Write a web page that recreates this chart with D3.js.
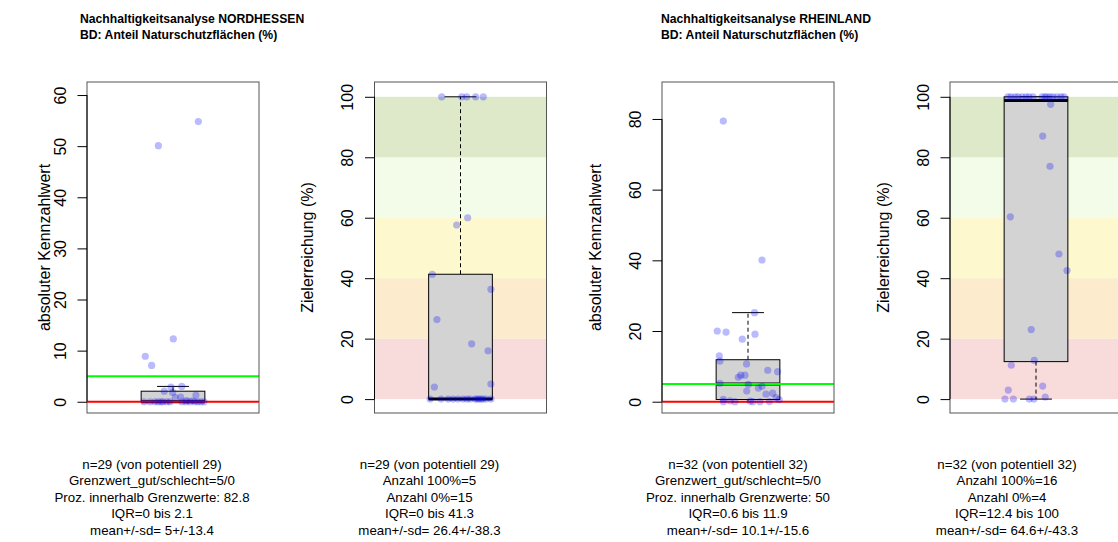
<!DOCTYPE html>
<html>
<head>
<meta charset="utf-8">
<script src="https://cdn.jsdelivr.net/npm/d3@7"></script>
<style>
  body { margin: 0; background: #fff; }
  svg { display: block; font-family: "Liberation Sans", Arial, Helvetica, sans-serif; }
</style>
</head>
<body>
<svg id="chart" width="1118" height="542"></svg>
<script>
// ---- Data ---------------------------------------------------------------
const regions = ["NORDHESSEN", "RHEINLAND"];
const indicatorName = "BD: Anteil Naturschutzflächen (%)";
const thresholdGood = 5;   // Grenzwert gut
const thresholdBad = 0;    // Grenzwert schlecht

// NORDHESSEN: absolute indicator values and their horizontal jitter
const nhValues = [54.8, 50.1, 12.3, 8.9, 7.1, 3.0, 2.88, 2.065, 1.82, 1.32, 0.92, 0.8, 0.25, 0.2,
  0, 0, 0, 0, 0, 0, 0, 0, 0, 0, 0, 0, 0, 0, 0];
const nhJitter = [0.159, -0.092, 0.002, -0.174, -0.134, 0.055, -0.013, -0.055, -0.002, 0.144, 0.048, 0.014, 0.086, 0.124,
  -0.182, -0.144, -0.113, -0.094, -0.075, -0.063, -0.038, -0.019, 0.056, 0.082, 0.107, 0.138, 0.157, 0.176, 0.195];

// NORDHESSEN: target achievement (%)
const nhPercent = [100, 100, 100, 100, 100, 60, 57.6, 41.3, 36.3, 26.3, 18.3, 16, 5, 4,
  0, 0, 0, 0, 0, 0, 0, 0, 0, 0, 0, 0, 0, 0, 0];
const nhPercentJitter = [-0.118, 0.008, 0.039, 0.095, 0.143, 0.045, -0.024, -0.177, 0.191, -0.148, 0.070, 0.173, 0.191, -0.164,
  -0.191, -0.122, -0.078, -0.047, -0.016, 0.016, 0.041, 0.060, 0.091, 0.104, 0.116, 0.129, 0.141, 0.160, 0.191];

// RHEINLAND: absolute indicator values and their horizontal jitter
const rlValues = [79.4, 40.1, 25.2, 20.0, 19.7, 19.1, 17.7, 13.0, 11.5, 10.7, 8.9, 8.5, 7.5, 7.5, 6.9, 5.2,
  4.875, 4.35, 3.85, 3.015, 2.4, 2.125, 1.15, 0.64, 0.56, 0.215, 0.15, 0.035,
  0, 0, 0, 0];
const rlJitter = [-0.155, 0.088, 0.041, -0.193, -0.138, 0.044, -0.036, -0.180, -0.176, -0.009, 0.124, 0.186, -0.019, -0.046, -0.061, -0.176,
  0.002, 0.088, 0.065, -0.008, 0.155, 0.113, 0.176, -0.155, 0.196, -0.113, 0.013, 0.134,
  -0.155, -0.082, 0.030, 0.075];

// RHEINLAND: target achievement (%)
const rlPercent = [100, 100, 100, 100, 100, 100, 100, 100, 100, 100, 100, 100, 100, 100, 100, 100,
  97.5, 87, 77, 60.3, 48, 42.5, 23, 12.8, 11.2, 4.3, 3, 0.7,
  0, 0, 0, 0];
const rlPercentJitter = [-0.176, -0.157, -0.132, -0.113, -0.088, -0.063, -0.044, -0.019, 0.038, 0.056, 0.069, 0.088, 0.107, 0.132, 0.157, 0.176,
  0.092, 0.042, 0.088, -0.161, 0.144, 0.195, -0.030, -0.011, -0.155, 0.042, -0.174, 0.058,
  -0.195, -0.142, -0.042, -0.013];

// Axis ticks
const ticksNh = [0, 10, 20, 30, 40, 50, 60];
const ticksRl = [0, 20, 40, 60, 80];
const ticksPercent = [0, 20, 40, 60, 80, 100];

// Achievement bands (%)
const bandLower = [0, 20, 40, 60, 80];
const bandUpper = [20, 40, 60, 80, 100];
const bandColors = ["#f8dcdc", "#fcebcc", "#fdf8cd", "#f3fbe9", "#dde9c9"];

// Summary texts below the plots
const nhAbsText = ["n=29 (von potentiell 29)", "Grenzwert_gut/schlecht=5/0", "Proz. innerhalb Grenzwerte: 82.8", "IQR=0 bis 2.1", "mean+/-sd= 5+/-13.4"];
const nhPctText = ["n=29 (von potentiell 29)", "Anzahl 100%=5", "Anzahl 0%=15", "IQR=0 bis 41.3", "mean+/-sd= 26.4+/-38.3"];
const rlAbsText = ["n=32 (von potentiell 32)", "Grenzwert_gut/schlecht=5/0", "Proz. innerhalb Grenzwerte: 50", "IQR=0.6 bis 11.9", "mean+/-sd= 10.1+/-15.6"];
const rlPctText = ["n=32 (von potentiell 32)", "Anzahl 100%=16", "Anzahl 0%=4", "IQR=12.4 bis 100", "mean+/-sd= 64.6+/-43.3"];

// ---- Layout -------------------------------------------------------------
const svg = d3.select("#chart");
const plotTop = 82, plotBottom = 413, plotWidth = 172;

const panels = [
  { left: 87,    values: nhValues,  jitter: nhJitter,        domain: [-2.2, 62.55], ticks: ticksNh,      label: "absoluter Kennzahlwert", labelGap: 37,  abs: true,  text: nhAbsText, textX: 152 },
  { left: 374.5, values: nhPercent, jitter: nhPercentJitter, domain: [-4.6, 104.9], ticks: ticksPercent, label: "Zielerreichung (%)",     labelGap: 61.5, abs: false, text: nhPctText, textX: 429.5 },
  { left: 662,   values: rlValues,  jitter: rlJitter,        domain: [-3.2, 90.46], ticks: ticksRl,      label: "absoluter Kennzahlwert", labelGap: 61.5, abs: true,  text: rlAbsText, textX: 738 },
  { left: 950,   values: rlPercent, jitter: rlPercentJitter, domain: [-4.6, 104.9], ticks: ticksPercent, label: "Zielerreichung (%)",     labelGap: 61.5, abs: false, text: rlPctText, textX: 1007 }
];

// Titles
[[80, regions[0]], [661, regions[1]]].forEach(([x, region]) => {
  const t = svg.append("text").attr("x", x).attr("y", 22.5)
    .attr("font-size", 12.2).attr("font-weight", "bold").attr("fill", "#000");
  t.append("tspan").attr("x", x).text("Nachhaltigkeitsanalyse " + region);
  t.append("tspan").attr("x", x).attr("dy", 16).text(indicatorName);
});

panels.forEach(p => {
  const g = svg.append("g");
  const x = d3.scaleLinear().domain([0.46, 1.54]).range([p.left, p.left + plotWidth]);
  const y = d3.scaleLinear().domain(p.domain).range([plotBottom, plotTop]);

  // achievement bands
  if (!p.abs) {
    g.selectAll("rect.band").data(bandColors).join("rect")
      .attr("class", "band")
      .attr("x", x.range()[0]).attr("width", plotWidth)
      .attr("y", (d, i) => y(bandUpper[i]))
      .attr("height", (d, i) => y(bandLower[i]) - y(bandUpper[i]))
      .attr("fill", d => d);
  }

  // boxplot statistics (type-7 quantiles)
  const sorted = p.values.slice().sort(d3.ascending);
  const q1 = d3.quantile(sorted, 0.25), med = d3.quantile(sorted, 0.5), q3 = d3.quantile(sorted, 0.75);
  const iqr = q3 - q1;
  const whiskLo = d3.min(sorted.filter(v => v >= q1 - 1.5 * iqr));
  const whiskHi = d3.max(sorted.filter(v => v <= q3 + 1.5 * iqr));

  // whiskers
  g.append("line").attr("x1", x(1)).attr("x2", x(1)).attr("y1", y(q3)).attr("y2", y(whiskHi))
    .attr("stroke", "#000").attr("stroke-dasharray", "4,3");
  g.append("line").attr("x1", x(1)).attr("x2", x(1)).attr("y1", y(q1)).attr("y2", y(whiskLo))
    .attr("stroke", "#000").attr("stroke-dasharray", "4,3");
  [whiskLo, whiskHi].forEach(v => {
    g.append("line").attr("x1", x(0.9)).attr("x2", x(1.1)).attr("y1", y(v)).attr("y2", y(v))
      .attr("stroke", "#000");
  });
  // box
  g.append("rect").attr("x", x(0.8)).attr("width", x(1.2) - x(0.8))
    .attr("y", y(q3)).attr("height", y(q1) - y(q3))
    .attr("fill", "#d3d3d3").attr("stroke", "#000");
  // median
  g.append("line").attr("x1", x(0.8)).attr("x2", x(1.2)).attr("y1", y(med)).attr("y2", y(med))
    .attr("stroke", "#000").attr("stroke-width", 3);

  // threshold lines
  if (p.abs) {
    g.append("line").attr("x1", x.range()[0]).attr("x2", x.range()[1])
      .attr("y1", y(thresholdGood)).attr("y2", y(thresholdGood))
      .attr("stroke", "#00ff00").attr("stroke-width", 2);
    g.append("line").attr("x1", x.range()[0]).attr("x2", x.range()[1])
      .attr("y1", y(thresholdBad)).attr("y2", y(thresholdBad))
      .attr("stroke", "#ff0000").attr("stroke-width", 2);
  }

  // jittered observations
  g.selectAll("circle").data(p.values).join("circle")
    .attr("cx", (d, i) => x(1 + p.jitter[i]))
    .attr("cy", d => y(d))
    .attr("r", 3.6)
    .attr("fill", "blue").attr("fill-opacity", 0.27);

  // frame
  g.append("rect").attr("x", x.range()[0]).attr("y", plotTop)
    .attr("width", plotWidth).attr("height", plotBottom - plotTop)
    .attr("fill", "none").attr("stroke", "#555");

  // y axis with labels parallel to the axis
  const ax = g.append("g").attr("transform", `translate(${p.left},0)`)
    .call(d3.axisLeft(y).tickValues(p.ticks).tickSize(9.5));
  ax.select(".domain").remove();
  ax.append("line").attr("x1", 0).attr("x2", 0)
    .attr("y1", y(p.ticks[0])).attr("y2", y(p.ticks[p.ticks.length - 1]))
    .attr("stroke", "#000");
  ax.selectAll(".tick line").attr("stroke", "#000");
  ax.selectAll(".tick text")
    .attr("x", null).attr("dy", null)
    .attr("transform", "translate(-21.5,0) rotate(-90)")
    .attr("text-anchor", "middle")
    .attr("font-size", 16)
    .attr("font-family", "Liberation Sans, Arial, sans-serif")
    .attr("fill", "#000");

  // axis title
  const cy = (plotTop + plotBottom) / 2;
  g.append("text")
    .attr("transform", `translate(${p.left - p.labelGap},${cy}) rotate(-90)`)
    .attr("text-anchor", "middle").attr("font-size", 16).attr("fill", "#000")
    .text(p.label);

  // summary lines below
  g.selectAll("text.summary").data(p.text).join("text")
    .attr("class", "summary")
    .attr("x", p.textX).attr("y", (d, i) => 469 + i * 16.4)
    .attr("text-anchor", "middle").attr("font-size", 13.3).attr("fill", "#000")
    .text(d => d);
});
</script>
</body>
</html>
